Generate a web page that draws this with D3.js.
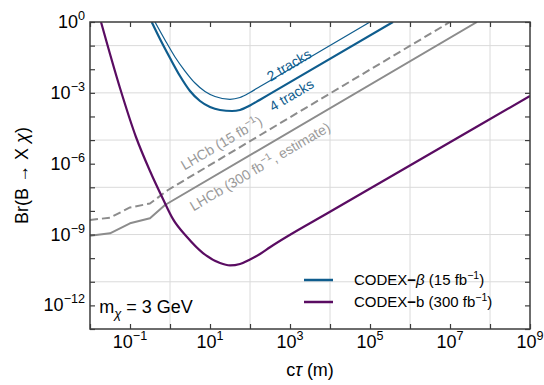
<!DOCTYPE html>
<html><head><meta charset="utf-8">
<script src="https://cdn.jsdelivr.net/npm/d3@7"></script>
<style>
body{margin:0;background:#fff}
text{font-family:"Liberation Sans",Arial,Helvetica,sans-serif}
</style></head><body>
<svg id="c" width="544" height="385"></svg>
<script>
// ---- data ----
const codexB_ctau = [0.01884, 0.0562, 0.141, 0.316, 0.668, 1.19, 2.66, 6.68, 17.8, 31.6, 56.2, 100, 178, 316, 1e4, 2.66e5, 1e9];
const codexB_br   = [1, 1.6e-3, 1.35e-5, 4.9e-7, 3.2e-8, 4.5e-9, 7.9e-10, 1.65e-10, 6.2e-11, 4.9e-11, 5.65e-11, 8.8e-11, 1.5e-10, 2.9e-10, 9.2e-9, 2.3e-7, 7.4e-4];

const beta2_ctau = [0.4217, 0.75, 1.334, 2.371, 4.217, 7.50, 13.34, 31.6, 56.2, 100, 178, 316, 1e5];
const beta2_br   = [1, 0.173, 0.033, 8.4e-3, 2.61e-3, 1.14e-3, 7.0e-4, 5.33e-4, 6.35e-4, 1.035e-3, 1.86e-3, 3.27e-3, 1];

const beta4_ctau = [0.3487, 0.5623, 1, 1.778, 3.162, 5.623, 10, 17.78, 35.5, 56.2, 100, 178, 316, 3.76e5];
const beta4_br   = [1, 0.1906, 0.0299, 5.17e-3, 1.20e-3, 4.52e-4, 2.52e-4, 1.88e-4, 1.70e-4, 1.88e-4, 2.91e-4, 5.13e-4, 9.02e-4, 1];

const lhcb15_ctau = [0.01, 0.0316, 0.1, 0.316, 0.891, 1e7];
const lhcb15_br   = [4.13e-9, 5.16e-9, 1.40e-8, 2.06e-8, 7.69e-8, 1];

const lhcb300_ctau = [0.01, 0.0316, 0.1, 0.316, 0.75, 4.73e7];
const lhcb300_br   = [8.9e-10, 1.13e-9, 2.99e-9, 4.86e-9, 1.78e-8, 1];

const xMajor = [1e-2,1e-1,1,1e1,1e2,1e3,1e4,1e5,1e6,1e7,1e8,1e9];
const xLabelExp = [-1,1,3,5,7,9];
const xGrid = [1,1e2,1e4,1e6,1e8];
const yMajor = d3.range(0,14).map(k=>Math.pow(10,-k));
const yLabelExp = [0,-3,-6,-9,-12];
const yGrid = [1e-1,1e-3,1e-5,1e-7,1e-9,1e-11];

const legendLabels = [
  {name:"CODEX", sym:"β", lumi:"15"},
  {name:"CODEX", sym:"b", lumi:"300"}
];
const annotations = [
  {text:"2 tracks", ctau:944, br:0.0151, color:"blue"},
  {text:"4 tracks", ctau:1090, br:8.1e-4, color:"blue"},
  {text:"LHCb (15 fb", sup:"−1", tail:")", ctau:19.4, br:7.5e-6, color:"gray"},
  {text:"LHCb (300 fb", sup:"−1", tail:", estimate)", ctau:178, br:7.6e-7, color:"gray"}
];

// ---- style ----
const C = {blue:"#0f5d8e", purple:"#5a0c62", gray:"#8c8c8c", grayText:"#9a9a9a", frame:"#3c3c3c", grid:"#dadada"};
const M = {l:90, r:530, t:22, b:329};

const svg = d3.select("#c");
const x = d3.scaleLog().domain([1e-2,1e9]).range([M.l,M.r]);
const y = d3.scaleLog().domain([1e-13,1]).range([M.b,M.t]);

svg.append("defs").append("clipPath").attr("id","clip")
  .append("rect").attr("x",M.l).attr("y",M.t).attr("width",M.r-M.l).attr("height",M.b-M.t);

// grid
const g = svg.append("g");
g.selectAll(".vg").data(xGrid).join("line")
  .attr("x1",d=>x(d)).attr("x2",d=>x(d)).attr("y1",M.t).attr("y2",M.b)
  .attr("stroke",C.grid).attr("stroke-width",1);
g.selectAll(".hg").data(yGrid).join("line")
  .attr("y1",d=>y(d)).attr("y2",d=>y(d)).attr("x1",M.l).attr("x2",M.r)
  .attr("stroke",C.grid).attr("stroke-width",1);

// series
const plot = svg.append("g").attr("clip-path","url(#clip)");
function series(cx, cy, color, w, curve, dash){
  const pts = cx.map((v,i)=>[v,cy[i]]);
  const line = d3.line().x(d=>x(d[0])).y(d=>y(d[1])).curve(curve);
  const p = plot.append("path").attr("d",line(pts)).attr("fill","none")
    .attr("stroke",color).attr("stroke-width",w).attr("stroke-linejoin","round");
  if(dash) p.attr("stroke-dasharray",dash);
}
series(lhcb15_ctau, lhcb15_br, C.gray, 2, d3.curveLinear, "8,4");
series(lhcb300_ctau, lhcb300_br, C.gray, 2, d3.curveLinear);
series(codexB_ctau, codexB_br, C.purple, 2.2, d3.curveMonotoneX);
series(beta2_ctau, beta2_br, C.blue, 1.2, d3.curveMonotoneX);
series(beta4_ctau, beta4_br, C.blue, 2.2, d3.curveMonotoneX);

// annotations
const ang = -Math.atan((y(1e-5)-y(1e-4))/(x(10)-x(1)))*180/Math.PI;
annotations.forEach(a=>{
  const t = svg.append("text")
    .attr("transform",`translate(${x(a.ctau)},${y(a.br)}) rotate(${ang})`)
    .attr("text-anchor","middle").attr("dy","0.35em")
    .attr("font-size",14).attr("fill", a.color==="blue"?C.blue:C.grayText);
  t.append("tspan").text(a.text);
  if(a.sup){
    t.append("tspan").attr("font-size",10).attr("dy",-6).text(a.sup);
    t.append("tspan").attr("dy",6).text(a.tail);
  }
});

// frame
svg.append("rect").attr("x",M.l).attr("y",M.t).attr("width",M.r-M.l).attr("height",M.b-M.t)
  .attr("fill","none").attr("stroke",C.frame).attr("stroke-width",1.5);

// axes
function supLabel(sel, exp, anchor){
  sel.text(null).attr("text-anchor",anchor);
  sel.append("tspan").text("10");
  sel.append("tspan").attr("font-size",12.6).attr("dy",-8).text(String(exp).replace("-","−"));
}
const axB = svg.append("g").attr("transform",`translate(0,${M.b})`)
  .call(d3.axisBottom(x).tickValues(xMajor).tickSize(-5).tickPadding(9).tickFormat(""));
const axT = svg.append("g").attr("transform",`translate(0,${M.t})`)
  .call(d3.axisTop(x).tickValues(xMajor).tickSize(-5).tickFormat(""));
const axL = svg.append("g").attr("transform",`translate(${M.l},0)`)
  .call(d3.axisLeft(y).tickValues(yMajor).tickSize(-5).tickFormat(""));
const axR = svg.append("g").attr("transform",`translate(${M.r},0)`)
  .call(d3.axisRight(y).tickValues(yMajor).tickSize(-5).tickFormat(""));
[axB,axT,axL,axR].forEach(a=>{
  a.select(".domain").remove();
  a.selectAll(".tick line").attr("stroke",C.frame).attr("stroke-width",1.2);
});
// x labels
svg.append("g").selectAll("text").data(xLabelExp).join("text")
  .attr("x",d=>x(Math.pow(10,d))).attr("y",348).attr("font-size",18).attr("fill","#000")
  .each(function(d){ supLabel(d3.select(this), d, "middle"); });
// y labels
svg.append("g").selectAll("text").data(yLabelExp).join("text")
  .attr("x",M.l-5).attr("y",d=>y(Math.pow(10,d))+6).attr("font-size",18).attr("fill","#000")
  .each(function(d){ supLabel(d3.select(this), d, "end"); });

// axis titles
const xt = svg.append("text").attr("x",(M.l+M.r)/2).attr("y",376).attr("text-anchor","middle").attr("font-size",18);
xt.append("tspan").text("c");
xt.append("tspan").attr("font-style","italic").text("τ");
xt.append("tspan").text(" (m)");
const yt = svg.append("text").attr("transform",`translate(28,${(M.t+M.b)/2}) rotate(-90)`)
  .attr("text-anchor","middle").attr("font-size",18);
yt.append("tspan").text("Br(B → X ");
yt.append("tspan").attr("font-style","italic").text("χ");
yt.append("tspan").text(")");

// mass label
const ml = svg.append("text").attr("x",x(0.017)).attr("y",y(1e-12)+8).attr("font-size",18);
ml.append("tspan").text("m");
ml.append("tspan").attr("font-size",13).attr("font-style","italic").attr("dy",5).text("χ");
ml.append("tspan").attr("dy",-5).text(" = 3 GeV");

// legend
const lg = svg.append("g");
const legColors = [C.blue, C.purple];
legendLabels.forEach((d,i)=>{
  const yy = 280 + i*22;
  lg.append("line").attr("x1",304).attr("x2",333).attr("y1",yy).attr("y2",yy)
    .attr("stroke",legColors[i]).attr("stroke-width",2.5);
  const t = lg.append("text").attr("x",354).attr("y",yy+5).attr("font-size",15);
  t.append("tspan").text(d.name);
  t.append("tspan").attr("font-weight","bold").text("−");
  const s = t.append("tspan").text(d.sym);
  if(d.sym==="β") s.attr("font-style","italic");
  t.append("tspan").text(" ("+d.lumi+" fb");
  t.append("tspan").attr("font-size",10.5).attr("dy",-6).text("−1");
  t.append("tspan").attr("dy",6).text(")");
});
</script>
</body></html>
